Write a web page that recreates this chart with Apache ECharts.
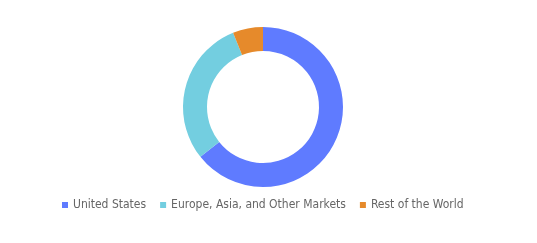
<!DOCTYPE html>
<html><head><meta charset="utf-8">
<script src="https://cdn.jsdelivr.net/npm/echarts@6/dist/echarts.min.js"></script>
<style>html,body{margin:0;padding:0;background:#fff}#c{width:537px;height:243px}</style>
</head><body><div id="c"></div>
<script>
const categories = ["United States", "Europe, Asia, and Other Markets", "Rest of the World"];
const values = [64.3, 29.6, 6.1];
const colors = ["#5f7bff", "#73cee0", "#e68a2b"];
const chart = echarts.init(document.getElementById('c'));
chart.setOption({
  animation: false,
  color: colors,
  legend: {
    bottom: 27,
    left: 57,
    icon: 'rect',
    itemWidth: 6,
    itemHeight: 6,
    itemGap: 14,
    textStyle: {fontFamily: 'DejaVu Sans Condensed', fontSize: 12, color: '#666'},
    data: categories
  },
  series: [{
    type: 'pie',
    center: [263, 107],
    radius: [56, 80],
    startAngle: 90,
    clockwise: true,
    label: {show: false},
    labelLine: {show: false},
    data: categories.map((n, i) => ({name: n, value: values[i]}))
  }]
});
</script></body></html>
